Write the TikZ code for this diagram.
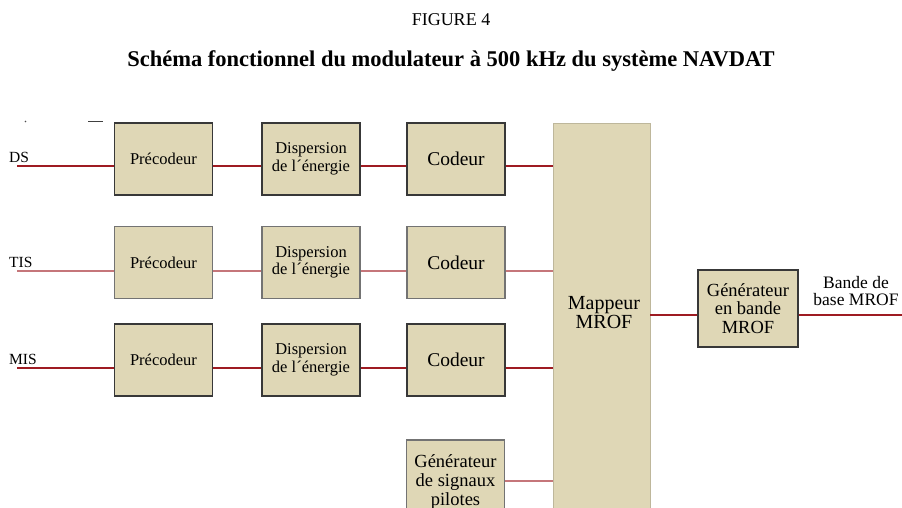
\documentclass[tikz,border=0pt]{standalone}
\usepackage{fontspec}
\setmainfont{Liberation Serif}
\begin{document}
\begin{tikzpicture}[x=1pt,y=-1pt,
  blk/.style={draw=black!78, line width=1.4pt, fill=boxtan, inner sep=1pt,
    minimum width=98pt, minimum height=72pt, align=center, font=\fontsize{16.5}{17.5}\selectfont},
  softblk/.style={blk, draw=black!55},
  codefont/.style={font=\fontsize{19.5}{20}\selectfont},
  sig/.style={draw=sigred, line width=2.2pt},
  softsig/.style={draw=sigred!60, line width=1.6pt},
  lbl/.style={font=\fontsize{15.5}{17}\selectfont, inner sep=0pt}]
\definecolor{boxtan}{HTML}{DFD7B6}
\definecolor{sigred}{HTML}{9E1B22}
\useasboundingbox (0,0) rectangle (902,508);
\clip (0,0) rectangle (902,508);

% titles
\node[font=\fontsize{18}{19}\selectfont] (fig) at (451,20) {FIGURE 4};
\node[font=\fontsize{22.5}{24}\selectfont\bfseries] (title) at (451,61)
  {Schéma fonctionnel du modulateur à 500 kHz du système NAVDAT};

% small marks above the first row
\fill[black!70] (25.5,121.5) circle (0.9);
\draw[black!75, line width=1.6pt] (88,121.5) -- (103,121.5);

% mapper and generator
\node[fill=boxtan, draw=boxtan!85!black, line width=0.6pt, minimum width=97pt,
  minimum height=410pt, inner sep=0pt] (map) at (601.5,328) {};
\node[align=center, font=\fontsize{20}{19}\selectfont] (maptxt) at (604,313) {Mappeur\\MROF};
\node[blk, minimum width=100pt, minimum height=77pt, font=\fontsize{18.5}{18.5}\selectfont]
  (gen) at (748,308.5) {Générateur\\en bande\\MROF};
\node[align=center, font=\fontsize{17.5}{17}\selectfont, inner sep=0pt] (out) at (856,291)
  {Bande de\\base MROF};
\coordinate (outend) at (902,315);

% row 1
\node[blk] (pre1) at (163.5,159) {Précodeur};
\node[blk] (dis1) at (311,159) {Dispersion\\de l´énergie};
\node[blk, codefont] (cod1) at (456,159) {Codeur};
% row 2
\node[softblk] (pre2) at (163.5,262.5) {Précodeur};
\node[softblk] (dis2) at (311,262.5) {Dispersion\\de l´énergie};
\node[softblk, codefont] (cod2) at (456,262.5) {Codeur};
% row 3
\node[blk] (pre3) at (163.5,360) {Précodeur};
\node[blk] (dis3) at (311,360) {Dispersion\\de l´énergie};
\node[blk, codefont] (cod3) at (456,360) {Codeur};
% pilot generator
\node[softblk, minimum height=84pt, font=\fontsize{18.5}{19}\selectfont] (pil) at (455.5,482)
  {Générateur\\de signaux\\pilotes};

% inputs
\coordinate (in1) at (17,166);
\coordinate (in2) at (17,271);
\coordinate (in3) at (17,368);
\node[lbl, anchor=base west] (ds) at (9,162) {DS};
\node[lbl, anchor=base west] (tis) at (9,267) {TIS};
\node[lbl, anchor=base west] (mis) at (9,364) {MIS};

% signal lines
\draw[sig] (in1) -- (pre1.west |- in1);
\draw[sig] (pre1.east |- in1) -- (dis1.west |- in1);
\draw[sig] (dis1.east |- in1) -- (cod1.west |- in1);
\draw[sig] (cod1.east |- in1) -- (map.west |- in1);

\draw[softsig] (in2) -- (pre2.west |- in2);
\draw[softsig] (pre2.east |- in2) -- (dis2.west |- in2);
\draw[softsig] (dis2.east |- in2) -- (cod2.west |- in2);
\draw[softsig] (cod2.east |- in2) -- (map.west |- in2);

\draw[sig] (in3) -- (pre3.west |- in3);
\draw[sig] (pre3.east |- in3) -- (dis3.west |- in3);
\draw[sig] (dis3.east |- in3) -- (cod3.west |- in3);
\draw[sig] (cod3.east |- in3) -- (map.west |- in3);

\draw[softsig] (pil.east |- 0,481) -- (map.west |- 0,481);

\draw[sig] (map.east |- outend) -- (gen.west |- outend);
\draw[sig] (gen.east |- outend) -- (outend);
\end{tikzpicture}
\end{document}
